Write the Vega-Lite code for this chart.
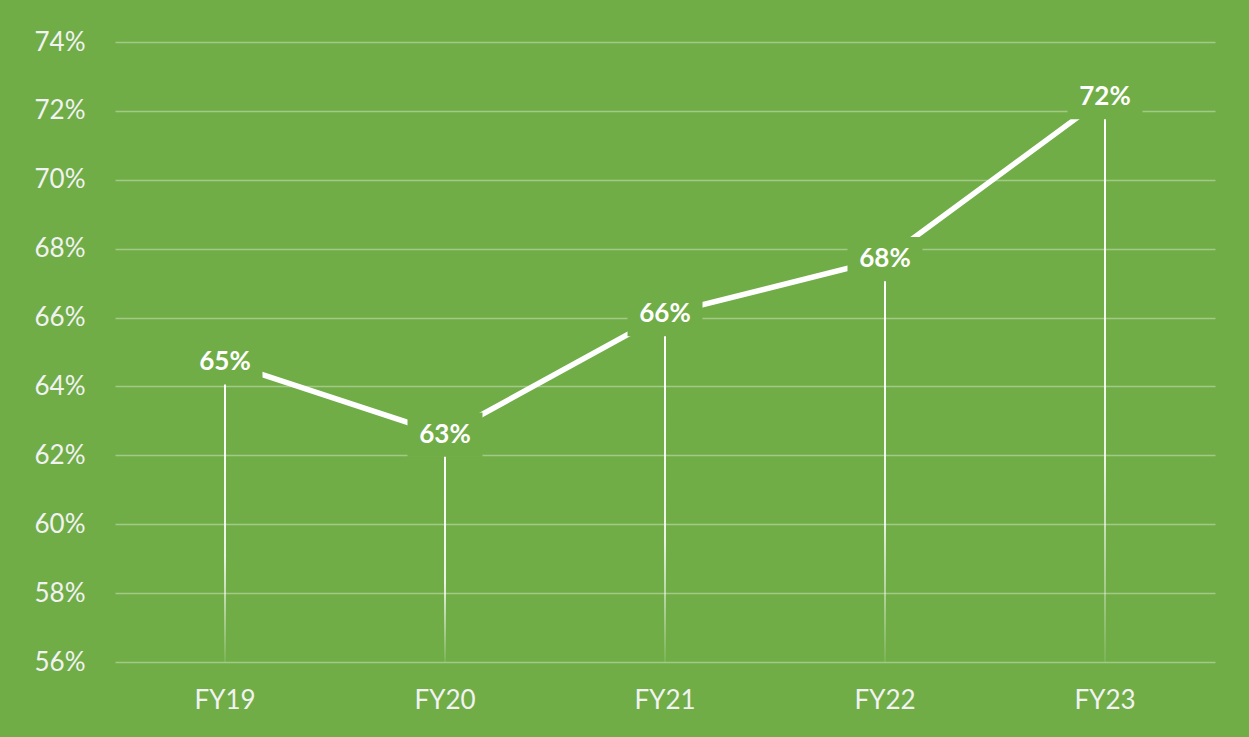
{
  "$schema": "https://vega.github.io/schema/vega-lite/v6.json",
  "width": 1100,
  "height": 620,
  "autosize": {"type": "none"},
  "padding": {"left": 115, "top": 42, "right": 34, "bottom": 75},
  "background": "#70AD47",
  "config": {
    "view": {"stroke": null},
    "font": "Lato"
  },
  "data": {
    "values": [
      {"year": "FY19", "value": 0.647},
      {"year": "FY20", "value": 0.626},
      {"year": "FY21", "value": 0.661},
      {"year": "FY22", "value": 0.677},
      {"year": "FY23", "value": 0.724}
    ]
  },
  "encoding": {
    "x": {
      "field": "year",
      "type": "nominal",
      "scale": {"paddingInner": 0, "paddingOuter": 0},
      "axis": {
        "title": null,
        "labelAngle": 0,
        "domain": false,
        "ticks": false,
        "labelFont": "Lato",
        "labelFontSize": 26,
        "labelColor": "#F2F2F2",
        "labelPadding": 25
      }
    },
    "y": {
      "field": "value",
      "type": "quantitative",
      "scale": {"domain": [0.56, 0.74], "zero": false, "nice": false},
      "axis": {
        "title": null,
        "format": ".0%",
        "values": [0.56, 0.58, 0.6, 0.62, 0.64, 0.66, 0.68, 0.7, 0.72, 0.74],
        "domain": false,
        "ticks": false,
        "labelFont": "Lato",
        "labelFontSize": 26,
        "labelColor": "#F2F2F2",
        "labelPadding": 30,
        "gridColor": "#FFFFFF",
        "gridOpacity": 0.35,
        "gridWidth": 1.5
      }
    }
  },
  "layer": [
    {
      "mark": {
        "type": "bar",
        "size": 2,
        "fill": {
          "gradient": "linear",
          "x1": 0, "y1": 0, "x2": 0, "y2": 1,
          "stops": [
            {"offset": 0, "color": "rgba(255,255,255,1)"},
            {"offset": 0.65, "color": "rgba(255,255,255,0.85)"},
            {"offset": 1, "color": "rgba(255,255,255,0.08)"}
          ]
        }
      },
      "encoding": {"y2": {"datum": 0.56}}
    },
    {
      "mark": {"type": "line", "color": "#FFFFFF", "strokeWidth": 5.5}
    },
    {
      "mark": {
        "type": "point",
        "shape": "M-1,-0.59H1V0.59H-1Z",
        "size": 5625,
        "filled": true,
        "fill": "#70AD47",
        "opacity": 1,
        "strokeWidth": 0
      }
    },
    {
      "mark": {
        "type": "text",
        "color": "#FFFFFF",
        "font": "Lato",
        "fontWeight": "bold",
        "fontSize": 26,
        "baseline": "middle",
        "align": "center"
      },
      "encoding": {
        "text": {"field": "value", "type": "quantitative", "format": ".0%"}
      }
    }
  ]
}
